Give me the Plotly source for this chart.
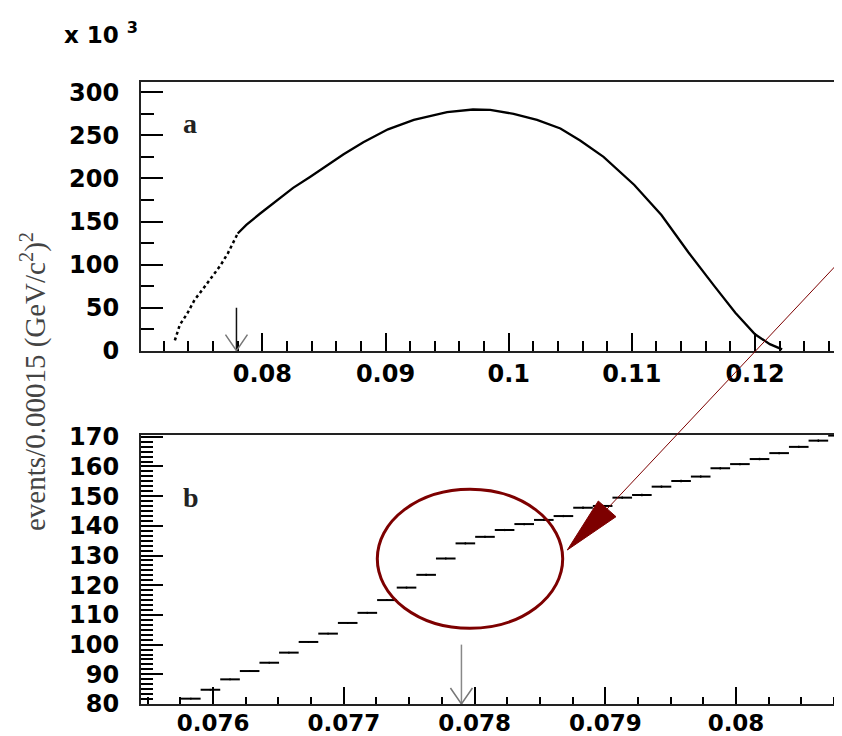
import math
import plotly.graph_objects as go

# ---------------- data ----------------
# panel a : full spectrum, events per bin in units of 10^3
x_a = [0.0729, 0.0733, 0.0739, 0.0745, 0.0752, 0.0759, 0.0766, 0.0772, 0.0778,
       0.0780, 0.0787, 0.0798, 0.0812, 0.0825, 0.0839, 0.0852, 0.0866, 0.0882,
       0.0902, 0.0923, 0.0950, 0.0971, 0.0985, 0.1004, 0.1023, 0.1042, 0.1058,
       0.1077, 0.1090, 0.1102, 0.1124, 0.1146, 0.1167, 0.1184, 0.1200, 0.1212,
       0.1222]
y_a = [12, 30, 43, 59, 72, 86, 99, 113, 131,
       136, 146, 159, 175, 189, 202, 215, 228, 242,
       257, 268, 277, 280, 279.5, 275, 268, 258, 244,
       225, 208, 192.4, 157.5, 114, 75, 44, 19, 7.6,
       1.5]
KINK_X = 0.0780          # end of the steep (sparse) part of the spectrum

# panel b : zoom around the kink, bin width 0.00015
x_b = [0.07583, 0.07598, 0.07613, 0.07628, 0.07643, 0.07658, 0.07673, 0.07688,
       0.07703, 0.07718, 0.07733, 0.07748, 0.07763, 0.07778, 0.07793, 0.07808,
       0.07823, 0.07838, 0.07853, 0.07868, 0.07883, 0.07898, 0.07913, 0.07928,
       0.07943, 0.07958, 0.07973, 0.07988, 0.08003, 0.08018, 0.08033, 0.08048,
       0.08063, 0.08078]
y_b = [81.8, 84.8, 88.3, 91.1, 93.9, 97.3, 100.9, 103.7,
       107.3, 110.7, 115.0, 119.2, 123.5, 129.0, 134.1, 136.3,
       138.6, 140.6, 142.0, 143.3, 146.1, 146.7, 149.5, 150.4,
       153.2, 155.1, 156.6, 159.4, 160.8, 162.5, 164.5, 166.6,
       168.7, 170.4]
BIN_WIDTH = 0.00015

ARROW_X = 0.0779          # marked position in both panels
ARROW_TOP_A = 50          # top of arrow in panel a (10^3 events)
ARROW_TOP_B = 100         # top of arrow in panel b

ticks_a_x = [0.08, 0.09, 0.10, 0.11, 0.12]
ticks_b_x = [0.076, 0.077, 0.078, 0.079, 0.080]

# ---------------- figure ----------------
W, H = 842, 736
OFF = 8   # page body margin: the figure is drawn 8 px right/down on screen

def px(v):
    return (v - OFF) / W

def py(v):
    return 1 - (v - OFF) / H

fig = go.Figure()

k = sum(1 for v in x_a if v <= KINK_X)
fig.add_trace(go.Scatter(x=x_a[:k], y=y_a[:k], mode="lines",
                         line=dict(color="black", width=2.5, dash="dot"),
                         xaxis="x", yaxis="y", showlegend=False, hoverinfo="skip"))
fig.add_trace(go.Scatter(x=x_a[k - 1:], y=y_a[k - 1:], mode="lines",
                         line=dict(color="black", width=2.3),
                         xaxis="x", yaxis="y", showlegend=False, hoverinfo="skip"))

fig.add_trace(go.Scatter(
    x=x_b, y=y_b, mode="markers",
    marker=dict(size=1, color="black"),
    error_x=dict(type="constant", value=BIN_WIDTH / 2, width=0, thickness=2, color="black"),
    error_y=dict(type="data", array=[math.sqrt(v * 1000) / 1000 for v in y_b],
                 width=0, thickness=1.5, color="black"),
    xaxis="x2", yaxis="y2", showlegend=False, hoverinfo="skip"))

tickfont = dict(family="DejaVu Sans", size=24, color="black", weight="bold")
common = dict(showgrid=False, zeroline=False, showline=True, linewidth=2,
              linecolor="#222", ticks="inside", tickwidth=2, tickcolor="black",
              automargin=False)

fig.update_layout(
    width=W, height=H,
    margin=dict(l=0, r=0, t=0, b=0),
    paper_bgcolor="white", plot_bgcolor="white",
    xaxis=dict(domain=[px(141), 1], anchor="y", range=[0.07015, 0.12771],
               tickvals=ticks_a_x, tickformat=".2~f", ticklen=18, mirror=True,
               ticklabelstandoff=0, tickfont=tickfont,
               minor=dict(dtick=0.002, tick0=0.07, ticklen=10, tickwidth=2,
                          ticks="inside", tickcolor="black", showgrid=False),
               **common),
    yaxis=dict(domain=[py(350.7), py(81.7)], anchor="x", range=[0, 312.3],
               tick0=0, dtick=50, ticklen=22, ticklabelstandoff=15, tickfont=tickfont,
               minor=dict(dtick=25, tick0=0, ticklen=13, tickwidth=2,
                          ticks="inside", tickcolor="black", showgrid=False),
               **common),
    xaxis2=dict(domain=[px(141), 1], anchor="y2", range=[0.075449, 0.080872],
                tickvals=ticks_b_x, tickformat=".3~f", ticklen=17, mirror=True,
                ticklabelstandoff=-3,
                tickfont=dict(family="DejaVu Sans", size=23, color="black", weight="bold"),
                minor=dict(dtick=0.00025, tick0=0.075, ticklen=7, tickwidth=2,
                           ticks="inside", tickcolor="black", showgrid=False),
                **common),
    yaxis2=dict(domain=[py(704), py(435)], anchor="x2", range=[80, 170.6],
                tick0=80, dtick=10, ticklen=22, ticklabelstandoff=15, tickfont=tickfont,
                minor=dict(dtick=10 / 6, tick0=80, ticklen=12, tickwidth=2,
                           ticks="inside", tickcolor="black", showgrid=False),
                **common),
)

shapes = []
# arrows marking the position (panel a black, panel b grey)
for xr, yr, ybase, ytop, col in [("x", "y", 0, ARROW_TOP_A, "#111"),
                                  ("x2", "y2", 80, ARROW_TOP_B, "#888")]:
    shapes.append(dict(type="line", xref=xr, yref=yr, x0=ARROW_X, x1=ARROW_X,
                       y0=ybase, y1=ytop, line=dict(color=col, width=1.5)))
    shapes.append(dict(type="path", xref=xr, yref=yr,
                       xsizemode="pixel", xanchor=ARROW_X,
                       ysizemode="pixel", yanchor=ybase,
                       path="M-11,16 L0,0 L11,16",
                       line=dict(color="#777", width=1.5)))

# red highlight: ellipse + arrow
RED = "#7d0000"
shapes.append(dict(type="circle", xref="paper", yref="paper",
                   x0=px(377.3), x1=px(562.7), y0=py(628.3), y1=py(489.3),
                   line=dict(color=RED, width=3)))
shapes.append(dict(type="line", xref="paper", yref="paper",
                   x0=px(850), y0=py(250.5), x1=px(607), y1=py(509),
                   line=dict(color=RED, width=1)))
shapes.append(dict(type="path", xref="paper", yref="paper",
                   path=f"M{px(567.3)},{py(550)} L{px(598.3)},{py(501)} L{px(616)},{py(516.7)} Z",
                   fillcolor=RED, line=dict(color=RED, width=1)))
fig.update_layout(shapes=shapes)

serif = "Liberation Serif"
fig.add_annotation(xref="paper", yref="paper", x=px(62), y=py(33),
                   xanchor="left", yanchor="middle", showarrow=False,
                   text="x 10 <sup>3</sup>",
                   font=dict(family="DejaVu Sans", size=23, color="black", weight="bold"))
fig.add_annotation(xref="paper", yref="paper", x=px(190), y=py(123),
                   xanchor="center", yanchor="middle", showarrow=False, text="a",
                   font=dict(family=serif, size=28, color="#222", weight="bold"))
fig.add_annotation(xref="paper", yref="paper", x=px(191), y=py(497),
                   xanchor="center", yanchor="middle", showarrow=False, text="b",
                   font=dict(family=serif, size=28, color="#222", weight="bold"))
fig.add_annotation(xref="paper", yref="paper", x=px(33), y=py(382),
                   xanchor="center", yanchor="middle", showarrow=False,
                   textangle=-90,
                   text="events/0.00015 (GeV/c<sup>2</sup>)<sup>2</sup>",
                   font=dict(family=serif, size=29, color="#444"))

fig.write_html("out.html")
